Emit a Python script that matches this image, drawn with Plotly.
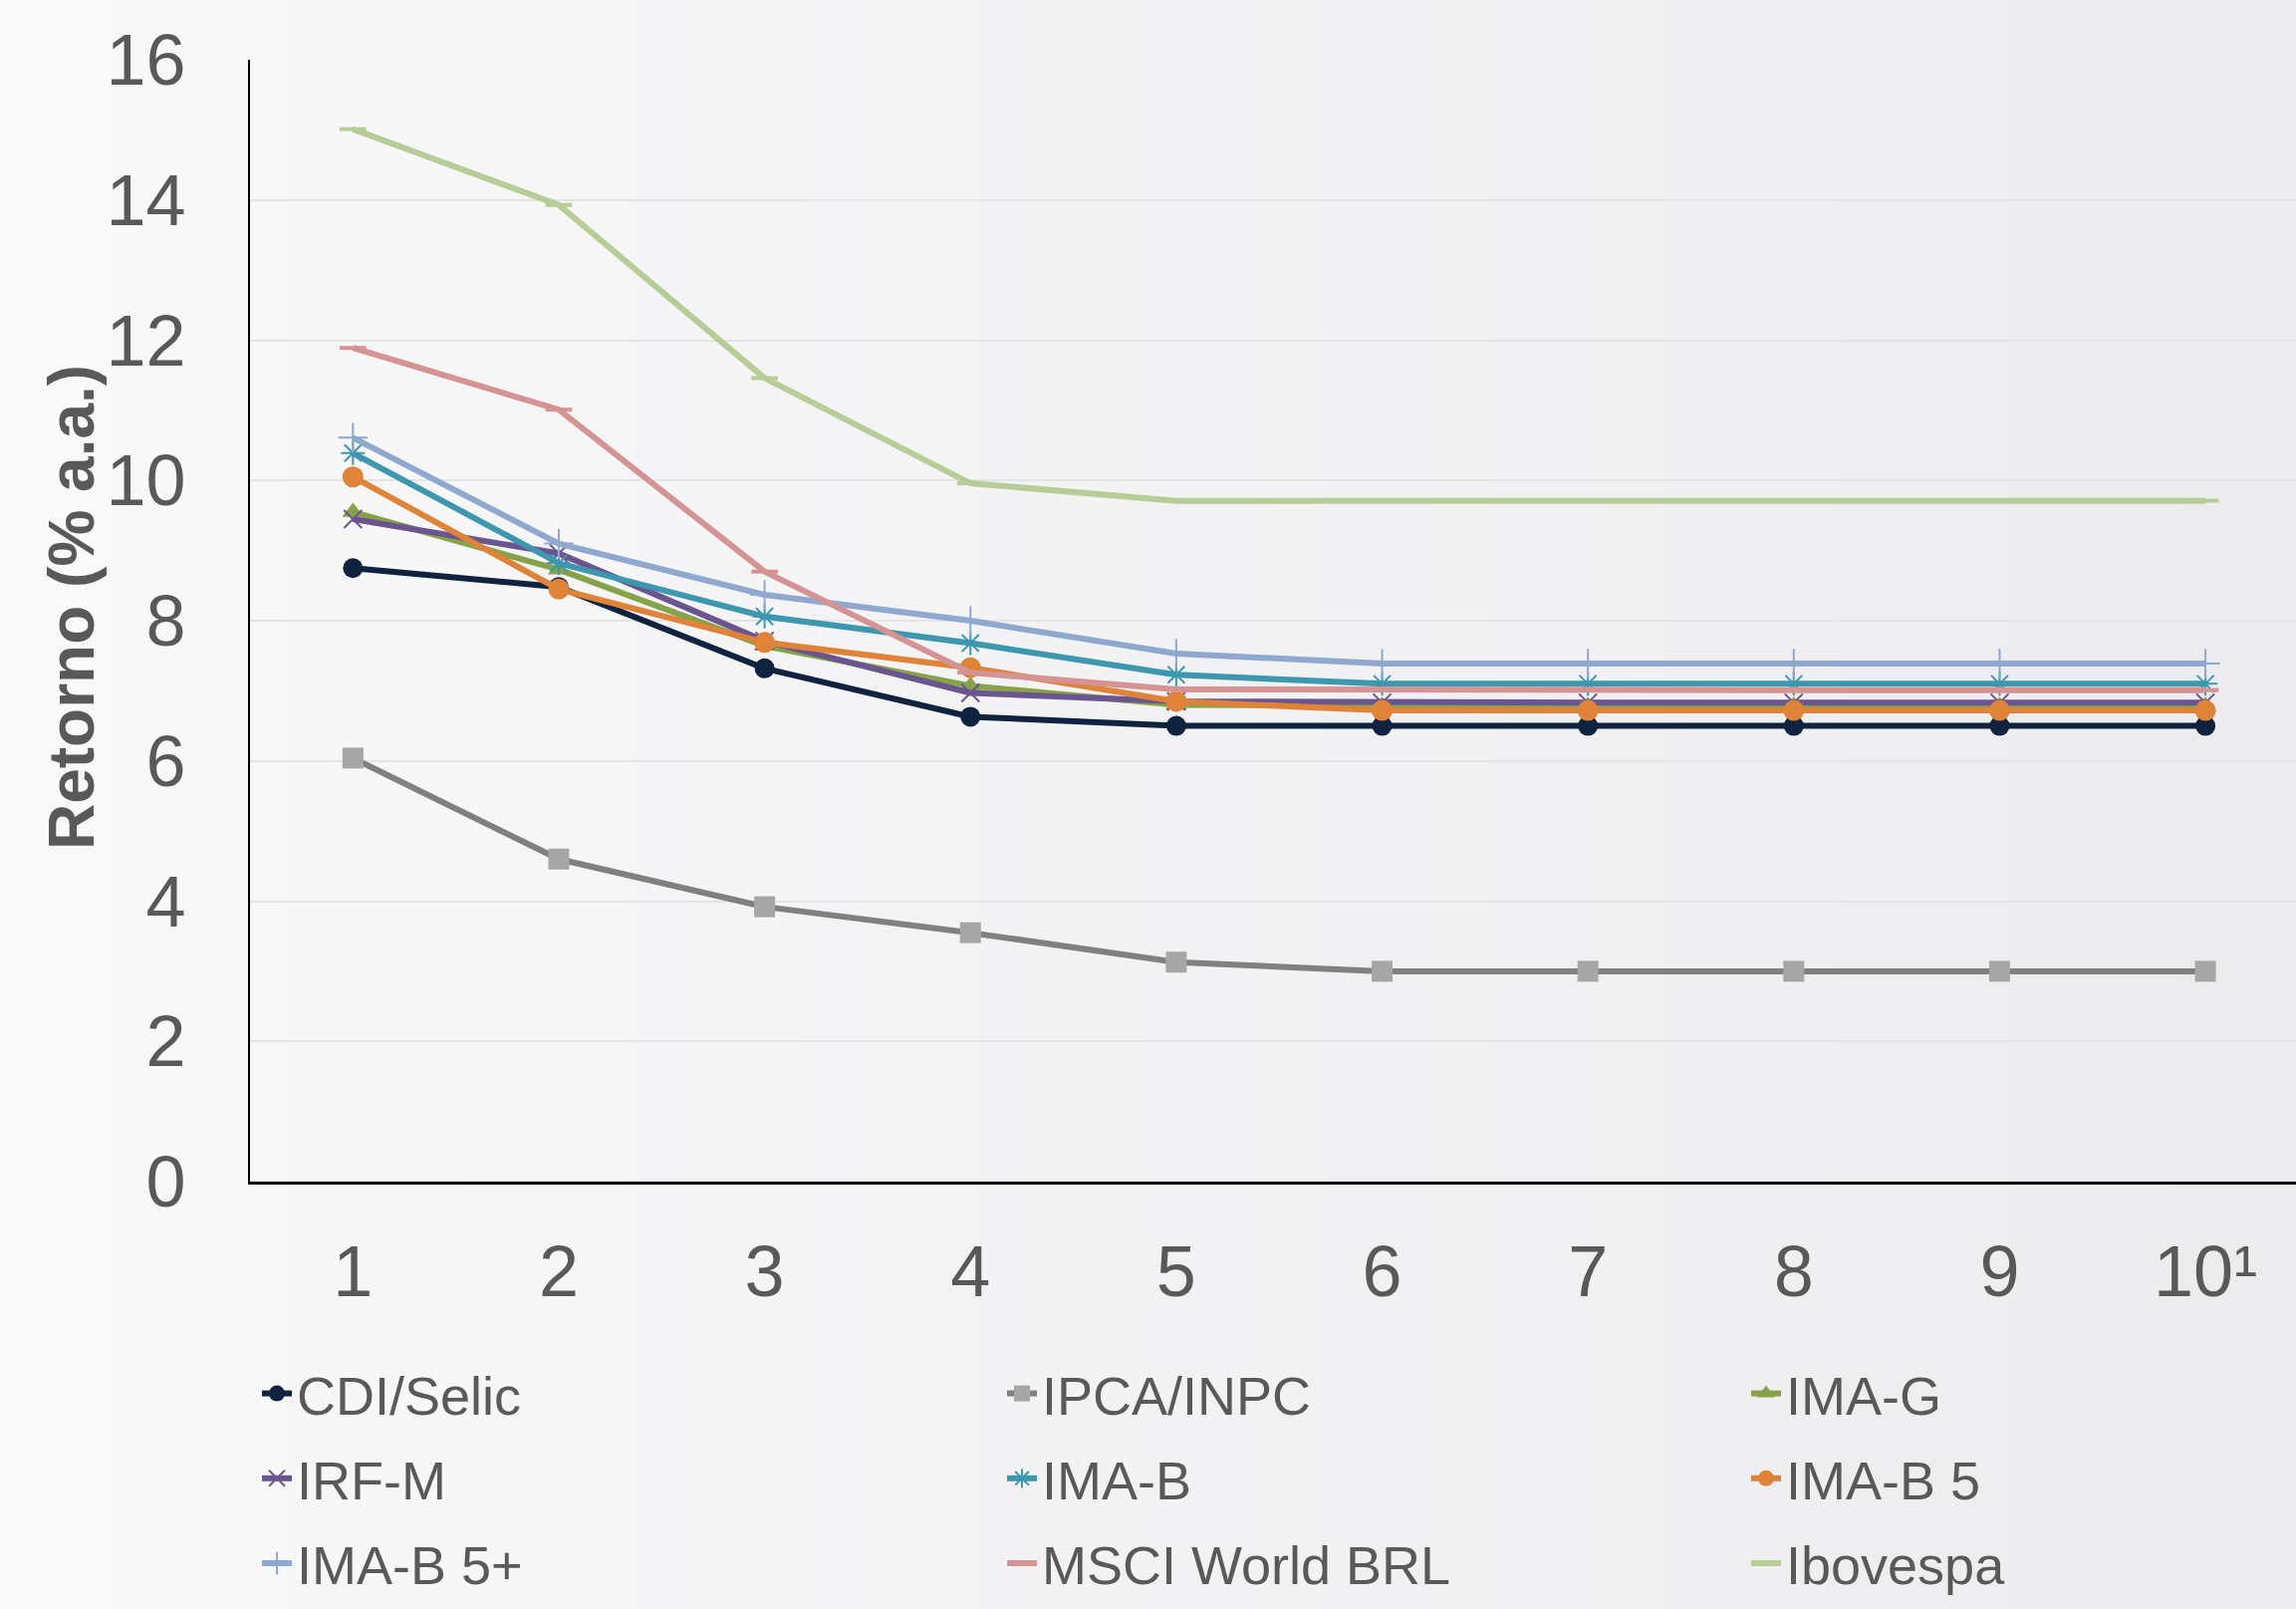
import plotly.graph_objects as go

W, H = 2305, 1615
ML, MR, MT, MB = 251, 0, 60, 429

periods = [1, 2, 3, 4, 5, 6, 7, 8, 9, 10]
tick_labels = ["1", "2", "3", "4", "5", "6", "7", "8", "9", "10¹"]

cdi_selic = [8.75, 8.48, 7.32, 6.63, 6.50, 6.50, 6.50, 6.50, 6.50, 6.50]
ipca_inpc = [6.04, 4.60, 3.92, 3.55, 3.13, 3.00, 3.00, 3.00, 3.00, 3.00]
ima_g = [9.55, 8.73, 7.64, 7.07, 6.80, 6.78, 6.78, 6.78, 6.78, 6.78]
irf_m = [9.45, 8.96, 7.71, 6.97, 6.85, 6.83, 6.83, 6.83, 6.83, 6.83]
ima_b = [10.39, 8.82, 8.06, 7.68, 7.23, 7.10, 7.10, 7.10, 7.10, 7.10]
ima_b5 = [10.05, 8.45, 7.69, 7.33, 6.85, 6.72, 6.72, 6.72, 6.72, 6.72]
ima_b5p = [10.61, 9.10, 8.37, 8.00, 7.53, 7.39, 7.39, 7.39, 7.39, 7.39]
msci = [11.89, 11.01, 8.70, 7.26, 7.02, 7.01, 7.01, 7.01, 7.01, 7.01]
ibovespa = [15.01, 13.93, 11.46, 9.96, 9.71, 9.71, 9.71, 9.71, 9.71, 9.71]

series = [
    # name, values, line color, marker color, symbol, size, marker line width, legend
    ("CDI/Selic", cdi_selic, "#0F2340", "#0F2340", "circle", 20, 0, "legend"),
    ("IRF-M", irf_m, "#6B5590", "#6B5590", "x-thin-open", 18, 2, "legend"),
    ("IMA-B 5+", ima_b5p, "#8FA8CF", "#8FA8CF", "cross-thin-open", 21, 2, "legend"),
    ("IPCA/INPC", ipca_inpc, "#808080", "#A6A6A6", "square", 21, 0, "legend2"),
    ("IMA-B", ima_b, "#3D97AF", "#3D97AF", "asterisk-open", 20, 2, "legend2"),
    ("MSCI World BRL", msci, "#D59393", "#D59393", "line-ew-open", 19, 4, "legend2"),
    ("IMA-G", ima_g, "#86A34A", "#86A34A", "triangle-up", 19, 0, "legend3"),
    ("IMA-B 5", ima_b5, "#DE8338", "#DE8338", "circle", 21, 0, "legend3"),
    ("Ibovespa", ibovespa, "#B7CD97", "#B7CD97", "line-ew-open", 19, 4, "legend3"),
]
draw_order = ["CDI/Selic", "IPCA/INPC", "IMA-G", "IRF-M", "IMA-B", "IMA-B 5",
              "IMA-B 5+", "MSCI World BRL", "Ibovespa"]

fig = go.Figure()
lookup = {s[0]: s for s in series}
for nm in draw_order:
    name, vals, lc, mc, sym, sz, mlw, leg = lookup[nm]
    fig.add_trace(go.Scatter(
        x=periods, y=vals, name=name, mode="lines+markers",
        line=dict(color=lc, width=6),
        marker=dict(symbol=sym, size=sz, color=mc,
                    line=dict(width=mlw, color=mc)),
        legend=leg, legendgroup=name,
    ))

# subtle horizontal background gradient
shapes = []
n = 40
c0 = (249, 249, 250)
c1 = (236, 236, 238)
PW = W - ML - MR
PH = H - MT - MB
for i in range(n):
    px0 = W * i / n
    px1 = W * (i + 1) / n + 1
    t = (i + 0.5) / n
    col = tuple(round(c0[k] + (c1[k] - c0[k]) * t) for k in range(3))
    shapes.append(dict(
        type="rect", xref="paper", yref="paper", layer="below",
        x0=(px0 - ML) / PW, x1=(px1 - ML) / PW,
        y0=(H - MB - H) / PH, y1=(H - MB) / PH,
        fillcolor="rgb(%d,%d,%d)" % col, line=dict(width=0),
    ))

font_family = "Liberation Sans, Arial, sans-serif"
txt = "#595959"

leg_common = dict(
    font=dict(family=font_family, size=54, color=txt),
    bgcolor="rgba(0,0,0,0)", borderwidth=0,
    orientation="v", tracegroupgap=12,
    xref="container", yref="container",
    xanchor="left", yanchor="top", itemwidth=30,
    traceorder="grouped",
)
legy = 1 - 1357 / H

fig.update_layout(
    width=W, height=H,
    margin=dict(l=ML, r=MR, t=MT, b=MB, autoexpand=False),
    paper_bgcolor="#F4F4F5",
    plot_bgcolor="rgba(0,0,0,0)",
    shapes=shapes,
    font=dict(family=font_family, color=txt),
    legend=dict(leg_common, x=258 / W, y=legy),
    legend2=dict(leg_common, x=1006 / W, y=legy),
    legend3=dict(leg_common, x=1753 / W, y=legy),
    xaxis=dict(
        range=[0.5, 10.44], tickmode="array", tickvals=periods, ticktext=tick_labels,
        tickfont=dict(family=font_family, size=72, color=txt),
        showgrid=False, zeroline=False,
        showline=True, linecolor="#000000", linewidth=3,
        ticks="", ticklabelstandoff=26,
    ),
    yaxis=dict(
        range=[0, 16], tickmode="array", tickvals=list(range(0, 17, 2)),
        tickfont=dict(family=font_family, size=72, color=txt),
        showgrid=True, gridcolor="#E4E4E6", gridwidth=2, zeroline=False,
        showline=True, linecolor="#000000", linewidth=2,
        ticks="", ticklabelstandoff=48,
    ),
    annotations=[dict(
        text="<b>Retorno (% a.a.)</b>", textangle=-90,
        xref="paper", yref="paper",
        x=(72 - ML) / PW, y=(H - MB - 610) / PH,
        xanchor="center", yanchor="middle", showarrow=False,
        font=dict(family=font_family, size=64, color=txt),
    )],
    showlegend=True,
)

fig.write_html("out.html")
